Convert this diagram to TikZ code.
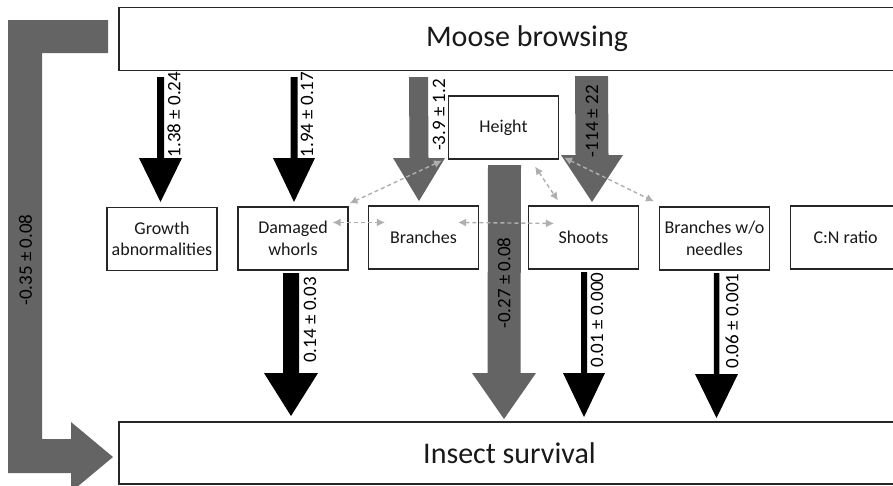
\documentclass[tikz,border=0pt]{standalone}
\usepackage{fontspec}
\setmainfont{Carlito}
\usetikzlibrary{calc,arrows.meta}
\definecolor{fatgray}{RGB}{100,100,100}
\definecolor{dashgray}{RGB}{175,175,175}
\definecolor{txt}{RGB}{25,25,25}
\newcommand\fatdown[6]{%
  \fill[#6] ($(#1)+(-#3,0)$) -- ($(#2)+(-#3,-#5)$) -- ($(#2)+(-#4,-#5)$) -- (#2)
    -- ($(#2)+(#4,-#5)$) -- ($(#2)+(#3,-#5)$) -- ($(#1)+(#3,0)$) -- cycle;}
\tikzset{
  varbox/.style={draw=black!85, line width=1.1pt, fill=white, minimum width=110pt,
    minimum height=63pt, inner sep=0pt, align=center, text=txt,
    font=\fontsize{18}{21.6}\selectfont},
  bigbox/.style={draw=black!85, line width=1.8pt, fill=white, minimum height=63pt,
    inner sep=0pt, text=txt, font=\fontsize{30}{36}\selectfont},
  coef/.style={rotate=90, inner sep=0pt, text=black, font=\fontsize{19}{22}\selectfont},
  corr/.style={draw=dashgray, line width=1.4pt, dash pattern=on 4pt off 3pt,
    {Latex[length=8pt,width=8pt]}-{Latex[length=8pt,width=8pt]}}
}
\begin{document}
\begin{tikzpicture}[x=1pt,y=-1pt]
\useasboundingbox (0,0) rectangle (893,485);
\fill[white] (0,0) rectangle (893,485);

% main boxes
\node[bigbox, minimum width=816pt] (mb) at (527,39) {Moose browsing};
\node[bigbox, minimum width=781pt, minimum height=62pt] (is) at (509.5,453) {Insect survival};

% intermediate boxes
\node[varbox] (h)   at (503.5,127.5) {Height};
\node[varbox] (g)   at (162,239)   {Growth\\abnormalities};
\node[varbox] (dw)  at (293,238.5) {Damaged\\whorls};
\node[varbox] (br)  at (423.5,237.5) {Branches};
\node[varbox] (sh)  at (583.5,237.5) {Shoots};
\node[varbox] (bwn) at (714.5,238.5) {Branches w/o\\needles};
\node[varbox] (cn)  at (845.5,237.5) {C:N ratio};

% arrow anchor coordinates
\coordinate (a1s) at (160.5,77);  \coordinate (a1e) at (160.5,202);
\coordinate (a2s) at (294,77);    \coordinate (a2e) at (294,202);
\coordinate (a3s) at (418.5,77);  \coordinate (a3e) at (419,201);
\coordinate (a4s) at (591.5,76);  \coordinate (a4e) at (592,202);
\coordinate (a5s) at (504.5,165); \coordinate (a5e) at (504,419);
\coordinate (a6s) at (291,273);   \coordinate (a6e) at (291,416);
\coordinate (a7s) at (584,272);   \coordinate (a7e) at (584,417);
\coordinate (a8s) at (716.5,273); \coordinate (a8e) at (716.5,418);

% moose -> variables
\fatdown{a1s}{a1e}{3.5}{21.5}{44}{black}
\fatdown{a2s}{a2e}{3.5}{21}{44}{black}
\fatdown{a3s}{a3e}{9.5}{26}{43}{fatgray}
\fatdown{a4s}{a4e}{16.5}{31}{47}{fatgray}
% variables -> insect survival
\fatdown{a5s}{a5e}{16.5}{32}{46}{fatgray}
\fatdown{a6s}{a6e}{8}{27}{43}{black}
\fatdown{a7s}{a7e}{3}{21}{44}{black}
\fatdown{a8s}{a8e}{2.75}{21.5}{44}{black}

% direct moose -> insect survival bracket arrow
\fill[fatgray] (108,20) -- (8,20) -- (8,473) -- (71,473) -- (71,492) -- (113,457)
  -- (71,422) -- (71,439) -- (42,439) -- (42,53) -- (108,53) -- cycle;

% coefficients
\node[coef] at (174,114.5) {1.38 ± 0.24};
\node[coef] at (307,114.5) {1.94 ± 0.17};
\node[coef] at (439,115)   {-3.9 ± 1.2};
\node[coef] at (592,121)   {-114 ± 22};
\node[coef] at (504,283)   {-0.27 ± 0.08};
\node[coef] at (310,320)   {0.14 ± 0.03};
\node[coef] at (597,320)   {0.01 ± 0.000};
\node[coef] at (732,321)   {0.06 ± 0.001};
\node[coef] at (25.5,260)  {-0.35 ± 0.08};

% correlations
\draw[corr] ([shift={(-6,1)}]h.south west) -- ([shift={(1,-3)}]dw.north east);
\draw[corr] ([shift={(-16,16)}]dw.north east) -- ([shift={(17,17)}]br.north west);
\draw[corr] ([shift={(-21,17)}]br.north east) -- ([shift={(26,18)}]sh.north west);
\draw[corr] ([shift={(-24,7)}]h.south east) -- ([shift={(30,-5)}]sh.north west);
\draw[corr] ([shift={(5,-2)}]h.south east) -- ([shift={(-5,-5)}]bwn.north west);
\end{tikzpicture}
\end{document}
